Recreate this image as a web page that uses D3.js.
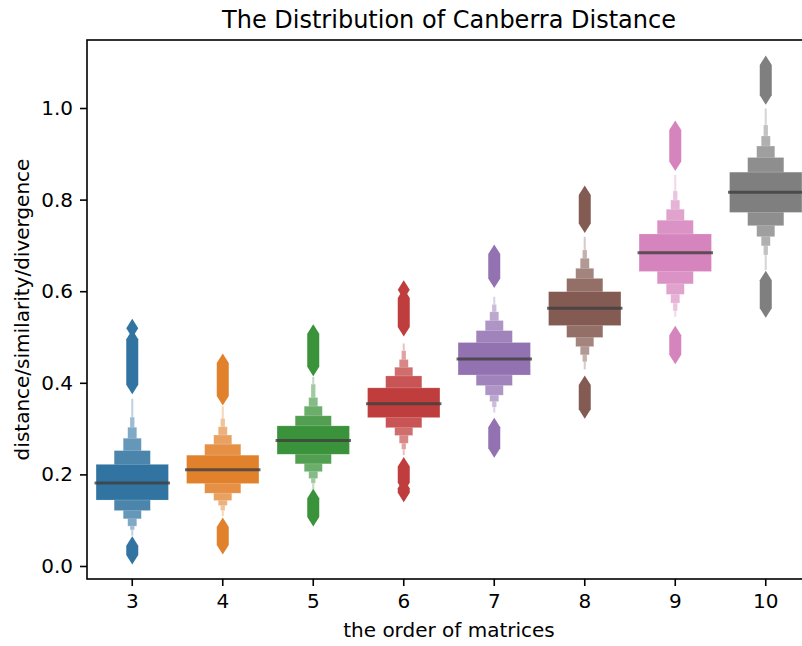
<!DOCTYPE html>
<html>
<head>
<meta charset="utf-8">
<script src="https://cdn.jsdelivr.net/npm/d3@7"></script>
<style>
  html, body { margin: 0; padding: 0; background: #fff; }
  svg { display: block; }
  text { font-family: "DejaVu Sans", sans-serif; fill: #000; }
</style>
</head>
<body>
<svg id="chart" width="802" height="646"></svg>
<script>
// ---------------- data ----------------
const categories = ["3", "4", "5", "6", "7", "8", "9", "10"];
const colors = ["#3274a1", "#e1812c", "#3a923a", "#c03d3e", "#9372b2", "#845b53", "#d684bd", "#7f7f7f"];
const medians = [0.181, 0.210, 0.274, 0.354, 0.452, 0.563, 0.684, 0.816];
// letter-value box edges, innermost box first
const boxUpper = [
  [0.222, 0.252, 0.279, 0.303, 0.325, 0.365],
  [0.242, 0.266, 0.286, 0.304, 0.322, 0.349],
  [0.306, 0.328, 0.349, 0.368, 0.397, 0.413],
  [0.389, 0.415, 0.434, 0.451, 0.470, 0.486],
  [0.488, 0.514, 0.536, 0.555, 0.571, 0.588],
  [0.599, 0.628, 0.650, 0.672, 0.690, 0.719],
  [0.725, 0.755, 0.779, 0.799, 0.819, 0.854],
  [0.860, 0.892, 0.917, 0.939, 0.963, 0.999]
];
const boxLower = [
  [0.144, 0.121, 0.103, 0.087, 0.079, 0.066],
  [0.180, 0.159, 0.143, 0.132, 0.121, 0.109],
  [0.244, 0.223, 0.206, 0.191, 0.181, 0.167],
  [0.324, 0.302, 0.285, 0.268, 0.255, 0.242],
  [0.417, 0.394, 0.373, 0.359, 0.347, 0.335],
  [0.525, 0.499, 0.479, 0.461, 0.446, 0.429],
  [0.643, 0.616, 0.593, 0.574, 0.557, 0.544],
  [0.772, 0.743, 0.719, 0.699, 0.679, 0.646]
];
// runs of densely packed outliers: [lowest, highest] outlier value of each run
const outlierRuns = [
  [[0.396, 0.495], [0.519, 0.519], [0.024, 0.044]],
  [[0.371, 0.443], [0.046, 0.085]],
  [[0.435, 0.507], [0.107, 0.148]],
  [[0.522, 0.585], [0.603, 0.603], [0.182, 0.217], [0.160, 0.170]],
  [[0.628, 0.681], [0.257, 0.303]],
  [[0.748, 0.810], [0.342, 0.395]],
  [[0.883, 0.952], [0.461, 0.504]],
  [[1.028, 1.094], [0.563, 0.624]]
];
const yTicks = [0.0, 0.2, 0.4, 0.6, 0.8, 1.0];
const title = "The Distribution of Canberra Distance";
const xLabel = "the order of matrices";
const yLabel = "distance/similarity/divergence";

// ---------------- layout ----------------
const svg = d3.select("#chart");
const mLeft = 87, mRight = 811, mTop = 40, mBottom = 579;

const x = d3.scaleBand().domain(categories).range([mLeft, mRight]).paddingInner(0).paddingOuter(0);
const y = d3.scaleLinear().domain([-0.0284, 1.1485]).range([mBottom, mTop]);

svg.append("defs").append("clipPath").attr("id", "clip")
  .append("rect").attr("x", mLeft).attr("y", mTop).attr("width", mRight - mLeft).attr("height", mBottom - mTop);

const plot = svg.append("g").attr("clip-path", "url(#clip)");

const boxW = x.bandwidth() * 0.8;
const lighten = [0, 0.12, 0.25, 0.38, 0.52, 0.68];

categories.forEach((c, i) => {
  const cx = x(c) + x.bandwidth() / 2;
  const base = d3.color(colors[i]);
  const g = plot.append("g");
  for (let k = boxUpper[i].length - 1; k >= 0; k--) {
    const w = boxW / Math.pow(2, k);
    const col = d3.interpolateRgb(base, "#ffffff")(lighten[k]);
    g.append("rect")
      .attr("x", cx - w / 2)
      .attr("width", w)
      .attr("y", y(boxUpper[i][k]))
      .attr("height", y(boxLower[i][k]) - y(boxUpper[i][k]))
      .attr("fill", col)
      .attr("stroke", "rgba(255,255,255,0.35)")
      .attr("stroke-width", 0.6);
  }
  g.append("line")
    .attr("x1", cx - boxW / 2 - 1.5).attr("x2", cx + boxW / 2 + 1.5)
    .attr("y1", y(medians[i])).attr("y2", y(medians[i]))
    .attr("stroke", "#3f3f3f").attr("stroke-opacity", 0.8).attr("stroke-width", 3);
  const hh = 9.5, hw = 6;
  outlierRuns[i].forEach(r => {
    const yHi = y(r[1]), yLo = y(r[0]);
    const p = d3.path();
    p.moveTo(cx, yHi - hh);
    p.lineTo(cx + hw, yHi);
    p.lineTo(cx + hw, yLo);
    p.lineTo(cx, yLo + hh);
    p.lineTo(cx - hw, yLo);
    p.lineTo(cx - hw, yHi);
    p.closePath();
    g.append("path").attr("d", p.toString()).attr("fill", colors[i]);
  });
});

// ---------------- axes ----------------
const xAxis = d3.axisBottom(x).tickSize(7).tickPadding(7);
const gx = svg.append("g").attr("transform", `translate(0,${mBottom})`).call(xAxis);
gx.select(".domain").remove();
gx.selectAll(".tick line").attr("stroke", "#000").attr("stroke-width", 1.6);
gx.selectAll(".tick text").attr("font-size", 20).attr("font-family", "DejaVu Sans").attr("dy", "0.74em");

const yAxis = d3.axisLeft(y).tickValues(yTicks).tickFormat(d3.format(".1f")).tickSize(7).tickPadding(7);
const gy = svg.append("g").attr("transform", `translate(${mLeft},0)`).call(yAxis);
gy.select(".domain").remove();
gy.selectAll(".tick line").attr("stroke", "#000").attr("stroke-width", 1.6);
gy.selectAll(".tick text").attr("font-size", 20).attr("font-family", "DejaVu Sans");

const sp = svg.append("g").attr("fill", "none").attr("stroke", "#000").attr("stroke-width", 1.6);
sp.append("rect").attr("x", mLeft).attr("y", mTop).attr("width", mRight - mLeft).attr("height", mBottom - mTop);

svg.append("text").attr("x", (mLeft + mRight) / 2).attr("y", 28).attr("text-anchor", "middle")
  .attr("font-size", 24).text(title);
svg.append("text").attr("x", (mLeft + mRight) / 2).attr("y", 637).attr("text-anchor", "middle")
  .attr("font-size", 20).text(xLabel);
svg.append("text").attr("transform", `translate(29,${(mTop + mBottom) / 2}) rotate(-90)`).attr("text-anchor", "middle")
  .attr("font-size", 20).text(yLabel);
</script>
</body>
</html>
